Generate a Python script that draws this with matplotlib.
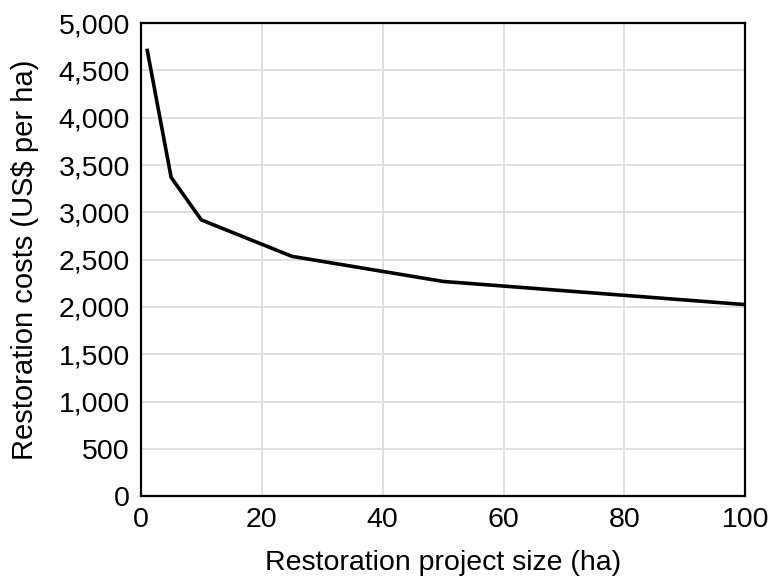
import matplotlib
matplotlib.use("Agg")
import matplotlib.pyplot as plt
from matplotlib.ticker import FuncFormatter

plt.rcParams['font.family'] = ['Liberation Sans', 'DejaVu Sans']

# project size (ha) vs restoration cost (US$ per ha)
size_ha = [1, 5, 10, 25, 50, 100]
cost_usd = [4730, 3370, 2920, 2535, 2270, 2025]

fig = plt.figure(figsize=(7.7, 5.79), dpi=100)
ax = fig.add_axes([0.183, 0.143, 0.785, 0.817])

ax.plot(size_ha, cost_usd, color='black', linewidth=2.6, solid_capstyle='butt')

ax.set_xlim(0, 100)
ax.set_ylim(0, 5000)
ax.set_xticks(range(0, 101, 20))
ax.set_yticks(range(0, 5001, 500))
ax.yaxis.set_major_formatter(FuncFormatter(lambda v, p: f"{int(v):,}"))
ax.grid(True, color='#dddddd', linewidth=1.3)
ax.set_axisbelow(True)
ax.tick_params(length=0, labelsize=20.5, pad=8)
for s in ax.spines.values():
    s.set_linewidth(1.6)
    s.set_color('black')

ax.set_xlabel('Restoration project size (ha)', fontsize=20.5, labelpad=12)
ax.set_ylabel('Restoration costs (US$ per ha)', fontsize=21, labelpad=14)

fig.savefig('out.png', dpi=100)
